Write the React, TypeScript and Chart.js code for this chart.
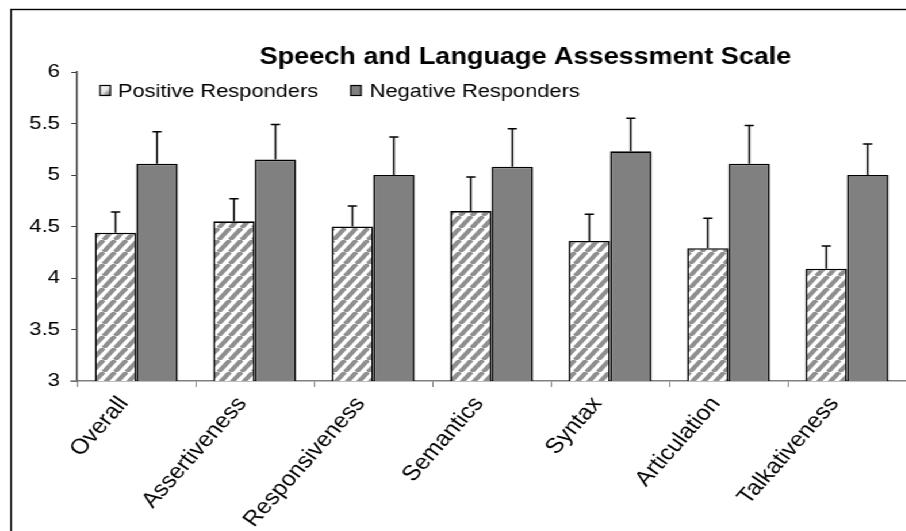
import React, { useEffect, useRef } from "react";
import { Chart, registerables } from "chart.js";

Chart.register(...registerables);

const categories = ["Overall", "Assertiveness", "Responsiveness", "Semantics", "Syntax", "Articulation", "Talkativeness"];
const positiveValues = [4.44, 4.55, 4.5, 4.65, 4.36, 4.29, 4.09];
const positiveErrors = [0.2, 0.22, 0.2, 0.33, 0.26, 0.29, 0.22];
const negativeValues = [5.11, 5.15, 5.0, 5.08, 5.23, 5.11, 5.0];
const negativeErrors = [0.31, 0.34, 0.37, 0.37, 0.32, 0.37, 0.3];
const seriesNames = ["Positive Responders", "Negative Responders"];
const titleText = "Speech and Language Assessment Scale";

const STRETCH = 1.15;
const W = 788;
const H = 531;
const FONT = '"Liberation Sans", Arial, sans-serif';

function makeHatch(): CanvasPattern | string {
  const tw = 10;
  const th = 12;
  const c = document.createElement("canvas");
  c.width = tw;
  c.height = th;
  const g = c.getContext("2d");
  if (!g) return "#cccccc";
  g.fillStyle = "#ffffff";
  g.fillRect(0, 0, tw, th);
  g.strokeStyle = "#8f8f8f";
  g.lineWidth = 4.2;
  g.beginPath();
  for (let k = -1; k <= 1; k++) {
    g.moveTo(k * tw, th);
    g.lineTo(k * tw + tw, 0);
  }
  g.stroke();
  const p = g.createPattern(c, "repeat");
  return p || "#cccccc";
}

export default function App() {
  const ref = useRef<HTMLCanvasElement | null>(null);

  useEffect(() => {
    const canvas = ref.current;
    if (!canvas) return;
    const hatch = makeHatch();
    const errs = [positiveErrors, negativeErrors];
    const vals = [positiveValues, negativeValues];

    const errorBars = {
      id: "errorBars",
      afterDatasetsDraw(chart: any) {
        const ctx = chart.ctx;
        const y = chart.scales.y;
        ctx.save();
        ctx.strokeStyle = "#000000";
        ctx.lineWidth = 1.5;
        for (let d = 0; d < 2; d++) {
          const meta = chart.getDatasetMeta(d);
          meta.data.forEach((bar: any, j: number) => {
            const top = y.getPixelForValue(vals[d][j] + errs[d][j]);
            ctx.beginPath();
            ctx.moveTo(bar.x, bar.y);
            ctx.lineTo(bar.x, top);
            ctx.moveTo(bar.x - 4, top);
            ctx.lineTo(bar.x + 4, top);
            ctx.stroke();
          });
        }
        ctx.restore();
      },
    };

    const decor = {
      id: "decor",
      afterDraw(chart: any) {
        const ctx = chart.ctx;
        const area = chart.chartArea;
        ctx.save();
        ctx.strokeStyle = "#808080";
        ctx.lineWidth = 1.5;
        ctx.beginPath();
        ctx.moveTo(area.left - 6, area.bottom);
        ctx.lineTo(area.left, area.bottom);
        ctx.stroke();
        ctx.strokeStyle = "#000000";
        ctx.lineWidth = 1.4;
        ctx.strokeRect(9.6, 9.5, W + 20, H + 20);
        ctx.fillStyle = "#000000";
        ctx.font = "bold 23.5px " + FONT;
        ctx.textAlign = "center";
        ctx.textBaseline = "alphabetic";
        ctx.fillText(titleText, 457, 64);
        ctx.font = "19px " + FONT;
        ctx.textAlign = "left";
        const boxY = 85.5;
        const boxH = 10;
        const boxW = 9;
        const grad = ctx.createLinearGradient(87, boxY, 87 + boxW, boxY + boxH);
        grad.addColorStop(0, "#ffffff");
        grad.addColorStop(0.5, "#e8e8e8");
        grad.addColorStop(1, "#555555");
        ctx.fillStyle = grad;
        ctx.fillRect(87, boxY, boxW, boxH);
        ctx.strokeStyle = "#000000";
        ctx.lineWidth = 1.2;
        ctx.strokeRect(87, boxY, boxW, boxH);
        ctx.fillStyle = "#808080";
        ctx.fillRect(305, boxY, boxW, boxH);
        ctx.strokeRect(305, boxY, boxW, boxH);
        ctx.fillStyle = "#000000";
        ctx.fillText(seriesNames[0], 102.5, 97);
        ctx.fillText(seriesNames[1], 321.5, 97);
        ctx.restore();
      },
    };

    const chart = new Chart(canvas, {
      type: "bar",
      data: {
        labels: categories,
        datasets: [
          {
            label: seriesNames[0],
            data: positiveValues,
            backgroundColor: hatch as any,
            borderColor: "#000000",
            borderWidth: 1.6,
            categoryPercentage: 0.7,
            barPercentage: 1.0,
          },
          {
            label: seriesNames[1],
            data: negativeValues,
            backgroundColor: "#808080",
            borderColor: "#000000",
            borderWidth: 1.6,
            categoryPercentage: 0.7,
            barPercentage: 1.0,
          },
        ],
      },
      options: {
        responsive: false,
        animation: false,
        devicePixelRatio: 1,
        layout: { padding: { top: 72, left: 0, right: 0, bottom: 0 } },
        plugins: {
          legend: { display: false },
          title: { display: false },
          tooltip: { enabled: false },
        },
        scales: {
          x: {
            grid: {
              display: true,
              drawOnChartArea: false,
              drawTicks: true,
              tickLength: 6,
              color: "#808080",
              offset: true,
            },
            border: { display: true, color: "#808080", width: 1.5 },
            ticks: {
              color: "#000000",
              font: { family: FONT, size: 21.5 },
              minRotation: 52,
              maxRotation: 52,
              autoSkip: false,
              padding: 5,
              labelOffset: -11,
            },
            afterFit: (s: any) => {
              s.height = 150;
            },
          },
          y: {
            min: 3,
            max: 6,
            ticks: {
              stepSize: 0.5,
              color: "#000000",
              font: { family: FONT, size: 19 },
              padding: 10,
              callback: (v: any) => String(v),
            },
            grid: {
              drawOnChartArea: false,
              drawTicks: true,
              tickLength: 5,
              color: "#404040",
            },
            border: { display: true, color: "#404040", width: 1.5 },
            afterFit: (s: any) => {
              s.width = 67;
            },
          },
        },
      },
      plugins: [errorBars, decor],
    });

    return () => {
      chart.destroy();
    };
  }, []);

  return (
    <div
      style={{
        position: "fixed",
        left: 0,
        top: 0,
        width: W,
        height: H,
        background: "#ffffff",
        transform: `scaleX(${STRETCH})`,
        transformOrigin: "0 0",
      }}
    >
      <canvas ref={ref} width={W} height={H} style={{ width: W, height: H, display: "block" }} />
    </div>
  );
}
